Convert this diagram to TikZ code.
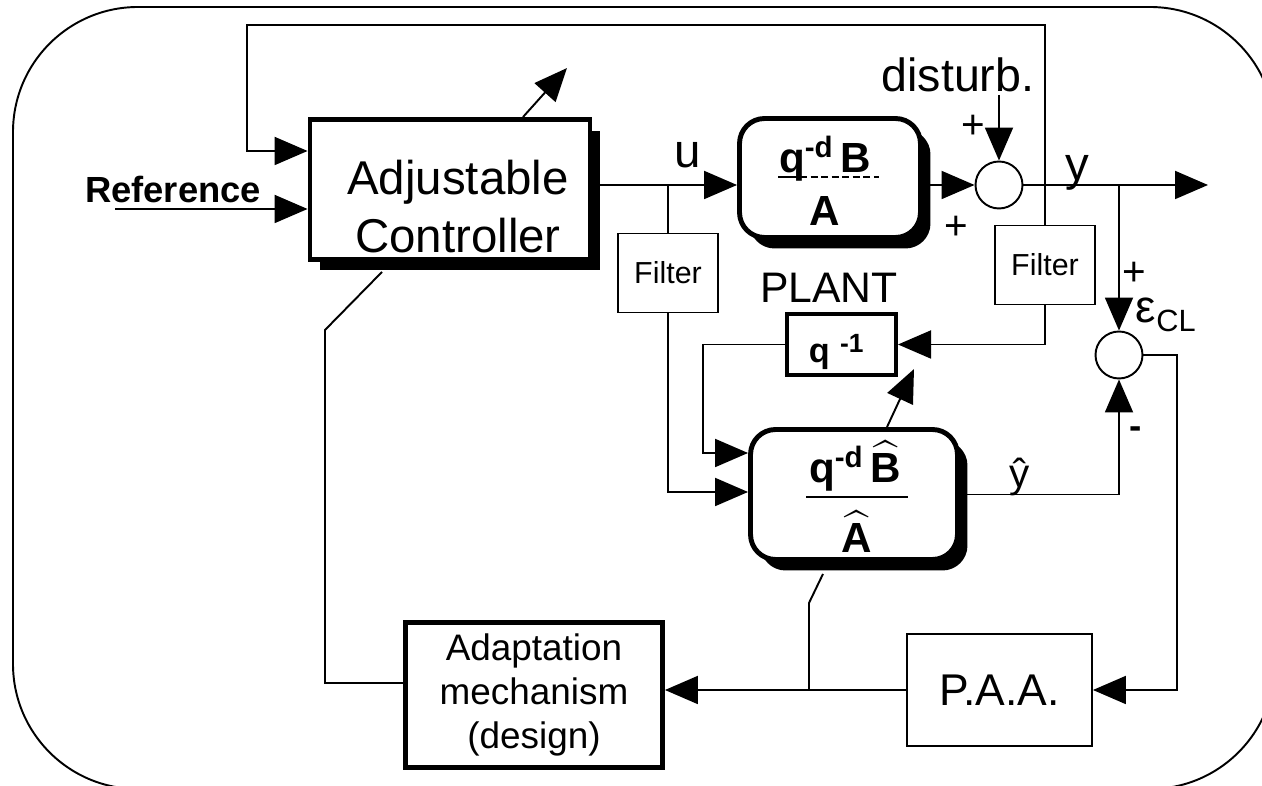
\documentclass[tikz,border=0pt]{standalone}
\usepackage{fontspec}
\setmainfont{Liberation Sans}
\usepackage{amsmath}
\usetikzlibrary{arrows.meta,positioning,shadows}

\begin{document}
\begin{tikzpicture}[x=0.02cm, y=-0.02cm, line width=1.1pt,
  sig/.style = {-{Triangle[length=0.66cm, width=0.56cm]}},
  block/.style = {draw, fill=white, line width=2.8pt, inner sep=0pt},
  shadowed/.style = {drop shadow={opacity=1, fill=black, shadow xshift=0.2cm, shadow yshift=-0.22cm}},
  thinbox/.style = {draw, fill=white, line width=1.1pt, inner sep=0pt, align=center},
  sum/.style = {draw, circle, fill=white, minimum size=0.94cm, inner sep=0pt},
  txt/.style = {inner sep=0pt},
  sign/.style = {inner sep=0pt, font=\fontsize{23}{24}\selectfont}]

\useasboundingbox (0,0) rectangle (1262,786);
\draw[rounded corners=2.5cm] (13,7) rectangle (1275,789);

% blocks
\node[block, shadowed, minimum width=5.6cm, minimum height=2.8cm] (ctrl) at (450,189.5) {};
\node[txt, anchor=base, align=center, font=\fontsize{27}{33.5}\selectfont] (ctrltext) at (458,253) {Adjustable\\Controller};

\node[block, shadowed, rounded corners=0.5cm, minimum width=3.62cm, minimum height=2.38cm] (plant) at (830,178) {};
\node[txt, anchor=base, font=\bfseries\fontsize{24}{28}\selectfont] (plantnum) at (825,173) {q\textsuperscript{-d}\,B};
\node[txt, anchor=base, font=\bfseries\fontsize{24}{28}\selectfont] (plantden) at (825,226) {A};
\draw (778,177) -- (800,177);
\draw[dash pattern=on 4pt off 2pt] (800,177) -- (879,177);
\node[txt, anchor=base, font=\fontsize{24.3}{28}\selectfont] (plantlabel) at (829,303) {PLANT};

\node[thinbox, minimum width=2.0cm, minimum height=1.58cm, font=\fontsize{17.3}{20}\selectfont] (filt1) at (668,273) {Filter};
\node[thinbox, minimum width=2.0cm, minimum height=1.58cm, font=\fontsize{17.3}{20}\selectfont] (filt2) at (1045,265) {Filter};

\node[block, line width=2.3pt, minimum width=2.18cm, minimum height=1.22cm] (delay) at (841.5,344.5) {};
\node[txt, anchor=base west, font=\bfseries\fontsize{19.5}{22}\selectfont] (delaytext) at (808,363) {q\hspace{0.3em}\raisebox{6.2pt}{\fontsize{15}{15}\selectfont -1}};

\node[block, shadowed, rounded corners=0.5cm, minimum width=4.14cm, minimum height=2.6cm] (est) at (854,494.5) {};
\node[txt, anchor=base, font=\bfseries\fontsize{24}{28}\selectfont] (estnum) at (855,483) {q\textsuperscript{-d}\,\(\widehat{\mbox{B}}\)};
\node[txt, anchor=base, font=\bfseries\fontsize{24}{28}\selectfont] (estden) at (857,553) {\(\widehat{\mbox{A}}\)};
\draw (806,497) -- (908,497);

\node[sum] (s1) at (999,185) {};
\node[sum] (s2) at (1119,355) {};

\node[thinbox, minimum width=3.7cm, minimum height=2.24cm, font=\fontsize{25.3}{30}\selectfont] (paa) at (999.5,690) {P.A.A.};
\node[block, minimum width=5.14cm, minimum height=2.9cm, align=center, font=\fontsize{21}{25.2}\selectfont] (adapt) at (534,695) {Adaptation\\mechanism\\(design)};

% labels
\node[txt, anchor=base, font=\bfseries\fontsize{20.7}{24}\selectfont] (reflabel) at (173,203) {Reference};
\node[txt, anchor=base, font=\fontsize{27}{30}\selectfont] (ulabel) at (688,168) {u};
\node[txt, anchor=base, font=\fontsize{26.5}{30}\selectfont] (dist) at (958,92) {disturb.};
\node[txt, anchor=base, font=\fontsize{27}{30}\selectfont] (ylabel) at (1077,181) {y};
\node[txt, anchor=base, font=\fontsize{23}{26}\selectfont] (yhatlabel) at (1020,488) {\^{y}};
\node[txt, anchor=base west, font=\fontsize{26}{30}\selectfont] (eps) at (1135,323) {ε\raisebox{-5.1pt}{\fontsize{17.5}{20}\selectfont CL}};
\node[sign] (p1) at (973,127) {+};
\node[sign] (p2) at (956,228) {+};
\node[sign] (p3) at (1134,274) {+};
\node[txt, font=\bfseries\fontsize{21}{22}\selectfont] (m1) at (1136,433) {-};

% connectors
\coordinate (uy) at (0,185);
\coordinate (refin) at (115,209);
\coordinate (fbcorner) at (247,25);
\coordinate (fbin) at (0,151);
\coordinate (distin) at (999,95);
\coordinate (yout) at (1208,185);
\coordinate (delaycorner) at (703,453);
\coordinate (filtin) at (0,492);
\coordinate (errcorner) at (1177,690);
\coordinate (adjcorner) at (325,330);
\coordinate (adaptin) at (0,683);
\coordinate (estjoin) at (809,690);

\draw[sig] (refin) -- (ctrl.west |- refin);
\draw[sig] (filt2.north) |- (fbcorner) |- (ctrl.west |- fbin);
\draw[sig] (ctrl.east |- uy) -- (plant.west |- uy);
\draw (filt1.north |- uy) -- (filt1.north);
\draw[sig] (filt1.south) |- (est.west |- filtin);
\draw[sig] (plant.east |- uy) -- (s1.west);
\draw[sig] (distin) -- (s1.north);
\draw[sig] (s1.east) -- (yout);
\draw[sig] (s2.north |- uy) -- (s2.north);
\draw[sig] (est.east) -| (s2.south);
\draw[sig] (filt2.south) |- (delay.east);
\draw[sig] (delay.west) -| (delaycorner) -- (est.west |- delaycorner);
\draw[sig] ([xshift=0.66cm]est.north) -- ++(27,-58);
\draw[sig] ([xshift=1.46cm]ctrl.north) -- ++(44,-49);
\draw ([xshift=-1.36cm, yshift=-0.2cm]ctrl.south) -- (adjcorner) |- (adapt.west |- adaptin);
\draw[sig] (s2.east) -| (errcorner) -- (paa.east);
\draw[sig] (paa.west) -- (adapt.east |- paa.west);
\draw ([xshift=-0.62cm, yshift=-0.24cm]est.south) -- ++(-14,29) -- (estjoin);
\end{tikzpicture}
\end{document}
